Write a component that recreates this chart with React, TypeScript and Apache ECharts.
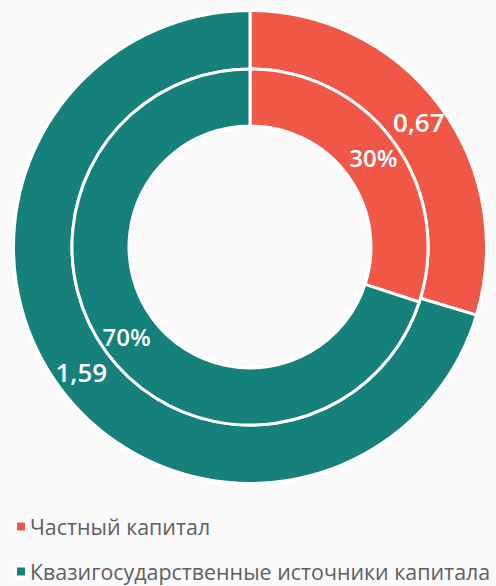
import React, { useEffect, useRef } from "react";
import * as echarts from "echarts";

const categories = ["Частный капитал", "Квазигосударственные источники капитала"];
const capitalValues = [0.67, 1.59];
const sharePercents = [30, 70];
const colors = ["#f05747", "#16817b"];

export default function App() {
  const ref = useRef<HTMLDivElement>(null);
  useEffect(() => {
    document.body.style.margin = "0";
    const chart = echarts.init(ref.current!, null, { renderer: "svg" });
    const font = "'Open Sans', 'Noto Sans', sans-serif";
    const legendBase = {
      orient: "horizontal",
      left: 10,
      icon: "rect",
      itemWidth: 10,
      itemHeight: 10,
      selectedMode: false,
      textStyle: { color: "#5f5f5f", fontSize: 21.4, fontFamily: font, padding: [0, 0, 0, -1] },
    };
    chart.setOption({
      animation: false,
      backgroundColor: "#fafafa",
      color: colors,
      legend: [
        { ...legendBase, top: 511, data: [categories[0]] },
        { ...legendBase, top: 556, data: [categories[1]] },
      ],
      series: [
        {
          type: "pie",
          center: [250, 247],
          radius: [178, 236.5],
          startAngle: 90,
          clockwise: true,
          itemStyle: { borderColor: "#ffffff", borderWidth: 3 },
          label: {
            position: "inside",
            color: "#ffffff",
            fontSize: 26,
            fontWeight: 600,
            fontFamily: font,
            formatter: (p: any) => String(p.value).replace(".", ","),
          },
          labelLine: { show: false },
          data: categories.map((c, i) => ({ name: c, value: capitalValues[i] })),
        },
        {
          type: "pie",
          center: [250, 247],
          radius: [121, 178],
          startAngle: 90,
          clockwise: true,
          itemStyle: { borderColor: "#ffffff", borderWidth: 3 },
          label: {
            position: "inside",
            color: "#ffffff",
            fontSize: 24,
            fontWeight: 600,
            fontFamily: font,
            formatter: (p: any) => p.value + "%",
          },
          labelLine: { show: false },
          data: categories.map((c, i) => ({ name: c, value: sharePercents[i] })),
        },
      ],
    });
    return () => chart.dispose();
  }, []);
  return <div ref={ref} style={{ position: "absolute", left: 0, top: 0, width: 496, height: 586 }} />;
}
